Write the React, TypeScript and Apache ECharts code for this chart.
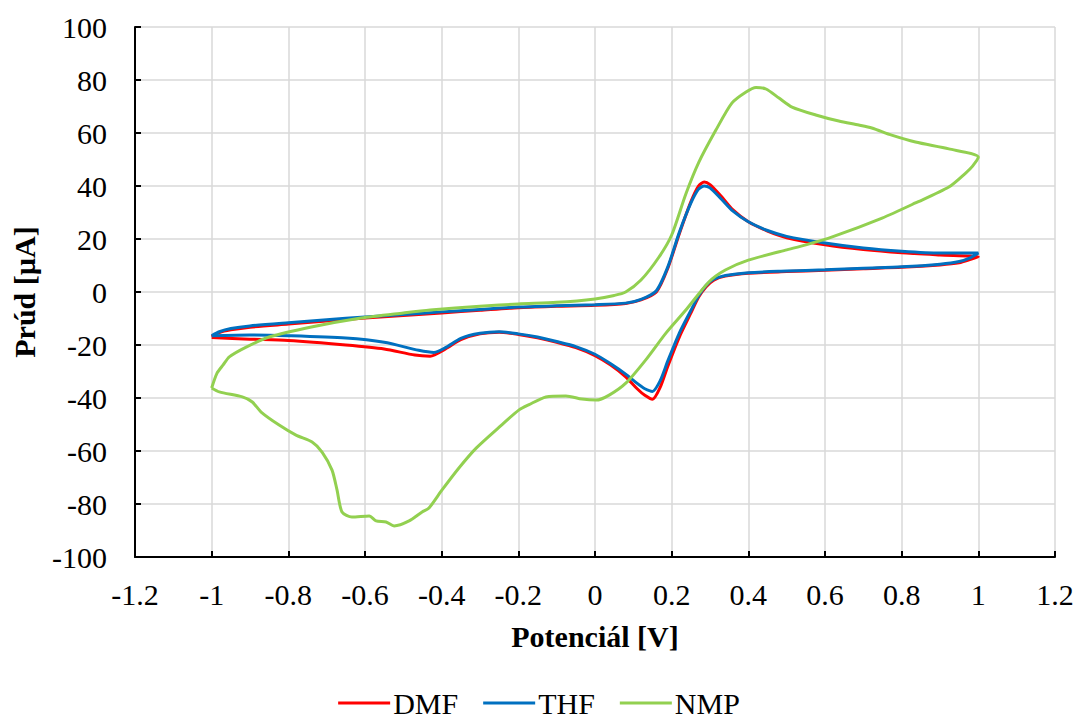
import React, { useEffect, useRef } from "react";
import * as echarts from "echarts";

const xTicks = { min: -1.2, max: 1.2, interval: 0.2 };
const yTicks = { min: -100, max: 100, interval: 20 };

const seriesNames = ["DMF", "THF", "NMP"];
const seriesColors = ["#FF0000", "#0070C0", "#92D050"];

const dmfPotential = [
  -1.0, -0.98, -0.95, -0.9, -0.8, -0.7, -0.6, -0.5, -0.4, -0.3, -0.2, -0.1, 0.0, 0.08, 0.12, 0.16, 0.19, 0.22, 0.25, 0.27, 0.285, 0.3, 0.33, 0.36, 0.4, 0.45, 0.5, 0.6, 0.7, 0.8, 0.9, 1.0,
  0.98, 0.95, 0.9, 0.8, 0.7, 0.6, 0.5, 0.4, 0.34, 0.31, 0.29, 0.27, 0.25, 0.22, 0.19, 0.17, 0.15, 0.13, 0.11, 0.08, 0.04, 0.0, -0.05, -0.1, -0.15, -0.2, -0.25, -0.3, -0.35, -0.39, -0.43, -0.47, -0.55, -0.65, -0.8, -0.9, -1.0,
];
const dmfCurrent = [
  -16.9, -15.3, -14.3, -13.3, -12.1, -10.9, -9.8, -8.9, -7.9, -6.9, -5.9, -5.4, -5.0, -4.3, -3.0, 0.0, 9.0, 22.0, 34.0, 40.0, 41.5, 40.5, 36.0, 31.0, 26.5, 23.0, 20.5, 17.8, 16.0, 14.8, 14.0, 13.3,
  12.3, 11.0, 10.2, 9.3, 8.8, 8.2, 7.7, 7.1, 6.0, 4.5, 2.0, -2.0, -8.0, -17.0, -28.0, -36.0, -40.5, -39.0, -36.5, -32.0, -27.5, -24.0, -21.0, -19.0, -17.3, -16.0, -15.2, -15.8, -18.0, -21.5, -24.2, -23.8, -21.5, -20.0, -18.3, -17.8, -17.2,
];

const thfPotential = [
  -1.0, -0.98, -0.95, -0.9, -0.8, -0.7, -0.6, -0.5, -0.4, -0.3, -0.2, -0.1, 0.0, 0.08, 0.12, 0.16, 0.19, 0.22, 0.25, 0.27, 0.285, 0.3, 0.33, 0.36, 0.4, 0.45, 0.5, 0.6, 0.7, 0.8, 0.9, 1.0,
  0.98, 0.95, 0.9, 0.8, 0.7, 0.6, 0.5, 0.4, 0.34, 0.31, 0.29, 0.27, 0.25, 0.22, 0.19, 0.17, 0.15, 0.13, 0.11, 0.08, 0.04, 0.0, -0.05, -0.1, -0.15, -0.2, -0.25, -0.3, -0.35, -0.39, -0.42, -0.46, -0.55, -0.65, -0.8, -0.9, -1.0,
];
const thfCurrent = [
  -16.5, -15.0, -13.8, -12.8, -11.6, -10.5, -9.4, -8.5, -7.5, -6.6, -5.7, -5.2, -4.8, -4.2, -2.8, 0.5, 9.5, 22.5, 33.5, 38.8, 40.0, 39.3, 35.0, 30.5, 26.5, 23.2, 21.0, 18.5, 16.6, 15.4, 14.7, 14.7,
  13.0, 11.5, 10.5, 9.5, 9.0, 8.4, 7.9, 7.3, 6.2, 4.8, 2.5, -1.5, -7.0, -15.5, -26.0, -33.5, -37.5, -36.5, -34.5, -31.0, -27.0, -23.5, -20.6, -18.7, -17.0, -15.8, -15.0, -15.6, -17.5, -21.0, -22.8, -22.0, -19.0, -17.4, -16.5, -16.2, -16.5,
];

const nmpPotential = [
  -1.0, -0.986, -0.97, -0.954, -0.91, -0.85, -0.74, -0.61, -0.5, -0.43, -0.3, -0.2, -0.1, 0.0, 0.05, 0.08, 0.12, 0.167, 0.2, 0.237, 0.271, 0.315, 0.357, 0.394, 0.42, 0.446, 0.48, 0.514, 0.576, 0.636, 0.688, 0.722, 0.774, 0.836, 0.923, 1.0,
  0.985, 0.967, 0.923, 0.836, 0.749, 0.619, 0.55, 0.497, 0.4, 0.34, 0.297, 0.237, 0.185, 0.133, 0.081, 0.037, 0.003, -0.034, -0.076, -0.128, -0.172, -0.198, -0.25, -0.31, -0.355, -0.399, -0.433, -0.451, -0.485, -0.524, -0.545, -0.571, -0.589, -0.634, -0.66, -0.673, -0.686, -0.712, -0.738, -0.78, -0.824, -0.871, -0.894, -0.92, -0.98, -1.0,
];
const nmpCurrent = [
  -36.2, -30.6, -27.5, -24.5, -20.8, -17.0, -13.2, -9.8, -7.9, -6.8, -5.4, -4.5, -3.9, -2.6, -1.3, 0.0, 4.5, 13.2, 21.5, 37.0, 49.0, 61.0, 71.3, 75.5, 77.2, 76.6, 73.2, 69.8, 66.8, 64.5, 63.0, 61.9, 59.2, 56.6, 54.0, 50.9,
  47.5, 44.9, 39.6, 33.6, 27.9, 20.8, 17.8, 15.8, 12.0, 8.3, 3.8, -6.8, -15.5, -25.5, -34.3, -38.9, -40.8, -40.4, -39.2, -39.6, -42.5, -44.5, -51.0, -58.9, -66.4, -74.7, -81.5, -83.0, -86.4, -88.3, -86.8, -86.4, -84.5, -84.9, -83.0, -74.7, -67.2, -60.4, -56.6, -54.0, -50.2, -45.3, -41.5, -39.6, -37.7, -36.2,
];

const potentials = [dmfPotential, thfPotential, nmpPotential];
const currents = [dmfCurrent, thfCurrent, nmpCurrent];

const xTitle = "Potenciál [V]";
const yTitle = "Prúd [µA]";

const FONT = "'Liberation Serif', 'Times New Roman', serif";
const FS = 30;

export default function App() {
  const ref = useRef<HTMLDivElement>(null);
  useEffect(() => {
    if (!ref.current) return;
    const chart = echarts.init(ref.current, undefined, { renderer: "svg" });
    const fmt = (v: number) => String(Math.round(v * 10) / 10);
    chart.setOption({
      animation: false,
      backgroundColor: "#fff",
      textStyle: { fontFamily: FONT, color: "#000" },
      grid: { left: 135, right: 23, top: 27, bottom: 168 },
      legend: {
        top: 688,
        left: "center",
        icon: "rect",
        itemWidth: 52,
        itemHeight: 3,
        itemGap: 25,
        padding: [0, 5],
        textStyle: { fontFamily: FONT, fontSize: FS, color: "#000", padding: [0, 0, 0, -2] },
        data: seriesNames,
      },
      xAxis: {
        type: "value",
        min: xTicks.min,
        max: xTicks.max,
        interval: xTicks.interval,
        name: xTitle,
        nameLocation: "middle",
        nameGap: 64,
        nameTextStyle: { fontFamily: FONT, fontSize: FS, fontWeight: "bold", color: "#000" },
        axisLine: { onZero: false, lineStyle: { color: "#000", width: 2 } },
        axisTick: { inside: true, length: 6, lineStyle: { color: "#000", width: 2 } },
        axisLabel: { formatter: fmt, fontFamily: FONT, fontSize: FS, color: "#000", margin: 22 },
        splitLine: { show: true, lineStyle: { color: "#D9D9D9", width: 1.5 } },
      },
      yAxis: {
        type: "value",
        min: yTicks.min,
        max: yTicks.max,
        interval: yTicks.interval,
        name: yTitle,
        nameLocation: "middle",
        nameGap: 96,
        nameTextStyle: { fontFamily: FONT, fontSize: FS, fontWeight: "bold", color: "#000" },
        axisLine: { onZero: false, lineStyle: { color: "#000", width: 2 } },
        axisTick: { inside: true, length: 6, lineStyle: { color: "#000", width: 2 } },
        axisLabel: { fontFamily: FONT, fontSize: FS, color: "#000", margin: 28 },
        splitLine: { show: true, lineStyle: { color: "#D9D9D9", width: 1.5 } },
      },
      series: seriesNames.map((name, i) => ({
        name,
        type: "line",
        showSymbol: false,
        symbol: "none",
        smooth: 0.25,
        lineStyle: { color: seriesColors[i], width: 3 },
        itemStyle: { color: seriesColors[i] },
        data: potentials[i].map((x, j) => [x, currents[i][j]]),
        z: 3 + i,
      })),
    });
    return () => chart.dispose();
  }, []);
  return (
    <div
      ref={ref}
      style={{ position: "fixed", left: 0, top: 0, width: 1078, height: 725 }}
    />
  );
}
